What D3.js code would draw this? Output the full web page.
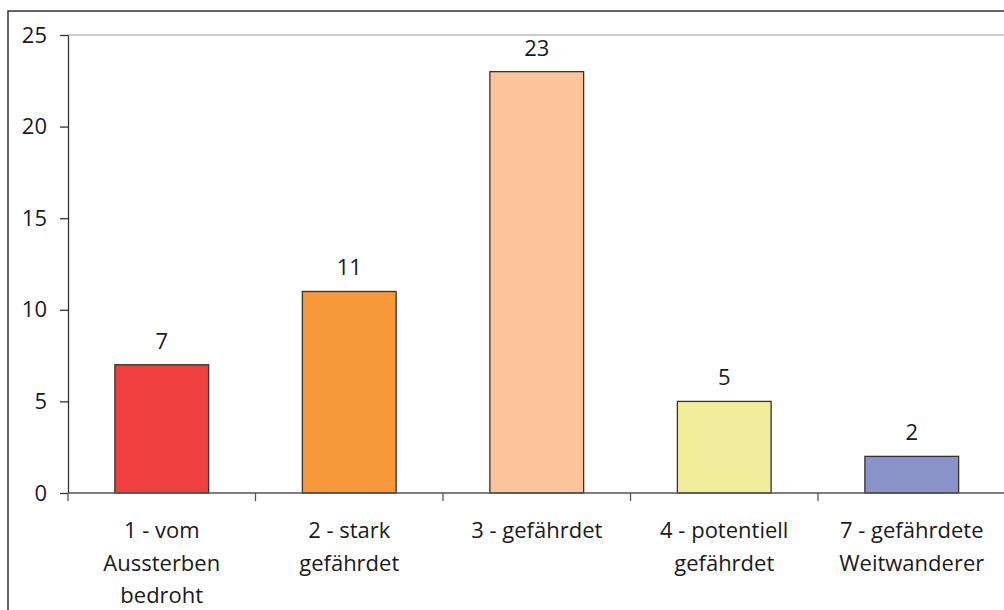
<!DOCTYPE html>
<html><head><meta charset="utf-8">
<script src="https://cdn.jsdelivr.net/npm/d3@7"></script>
<style>body{margin:0;background:#fff}svg{display:block}text{font-family:"Open Sans",sans-serif;fill:#1a1a1a}</style>
</head><body><svg id="c" width="1004" height="610"></svg>
<script>
const categories = [["1 - vom","Aussterben","bedroht"],["2 - stark","gefährdet"],["3 - gefährdet"],["4 - potentiell","gefährdet"],["7 - gefährdete","Weitwanderer"]];
const values = [7, 11, 23, 5, 2];
const colors = ["#EF4040", "#F7993A", "#FBC49C", "#EFEC9C", "#8A93C8"];
const yTicks = [0, 5, 10, 15, 20, 25];

const svg = d3.select("#c");
const L = 68, R = 1005.5, T = 35, B = 493;
// outer border
svg.append("rect").attr("x",8).attr("y",11).attr("width",1100).attr("height",700)
  .attr("fill","none").attr("stroke","#333").attr("stroke-width",1.5);

const x = d3.scaleBand().domain(d3.range(values.length)).range([L, R]).paddingInner(0.5).paddingOuter(0.25);
const y = d3.scaleLinear().domain([0, 25]).range([B, T]);

// top gridline
svg.append("line").attr("x1",L).attr("x2",1004).attr("y1",y(25)).attr("y2",y(25)).attr("stroke","#999").attr("stroke-width",1.2);

// bars
svg.selectAll("rect.bar").data(values).join("rect").attr("class","bar")
  .attr("x",(d,i)=>x(i)).attr("width",x.bandwidth())
  .attr("y",d=>y(d)).attr("height",d=>B-y(d))
  .attr("fill",(d,i)=>colors[i]).attr("stroke","#333").attr("stroke-width",1.3);

// value labels
svg.selectAll("text.val").data(values).join("text").attr("class","val")
  .attr("x",(d,i)=>x(i)+x.bandwidth()/2).attr("y",d=>y(d)-16)
  .attr("text-anchor","middle").attr("font-size",22).text(d=>d);

// y axis
const ya = svg.append("g").attr("transform",`translate(${L},0)`)
  .call(d3.axisLeft(y).tickValues(yTicks).tickSize(8).tickPadding(13).tickSizeOuter(0));
ya.select(".domain").attr("stroke","#333").attr("stroke-width",1.3);
ya.selectAll(".tick line").attr("stroke","#333").attr("stroke-width",1.3);
ya.selectAll(".tick text").attr("font-size",22).attr("font-family","Open Sans").attr("fill","#1a1a1a");

// x axis line
svg.append("line").attr("x1",L).attr("x2",1004).attr("y1",B).attr("y2",B).attr("stroke","#555").attr("stroke-width",1.3);
// x ticks at band boundaries
const step = x.step();
const bounds = d3.range(values.length+1).map(i => L + i*step);
svg.selectAll("line.xt").data(bounds).join("line").attr("class","xt")
  .attr("x1",d=>d).attr("x2",d=>d).attr("y1",B).attr("y2",B+8).attr("stroke","#555").attr("stroke-width",1.3);

// category labels
categories.forEach((lines,i)=>{
  const t = svg.append("text").attr("text-anchor","middle").attr("font-size",22)
    .attr("x",x(i)+x.bandwidth()/2).attr("y",538);
  lines.forEach((ln,j)=>t.append("tspan").attr("x",x(i)+x.bandwidth()/2).attr("dy",j?32.5:0).text(ln));
});
</script></body></html>
